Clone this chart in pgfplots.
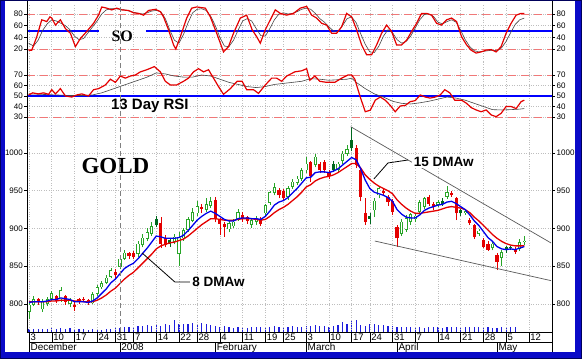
\documentclass[border=0pt]{standalone}
\usepackage{fontspec}
\setmainfont{Liberation Sans}
\newfontfamily\lserif{Liberation Serif}
\usepackage{pgfplots}
\usepackage{pgfplotstable}
\pgfplotsset{compat=1.18}

\definecolor{frameblue}{RGB}{10,10,200}
\definecolor{navyc}{RGB}{0,0,90}
\definecolor{cred}{RGB}{228,0,0}
\definecolor{cblue}{RGB}{0,0,235}
\definecolor{lblue}{RGB}{0,0,230}
\definecolor{dashred}{RGB}{240,120,120}
\definecolor{cgreen}{RGB}{40,165,40}
\definecolor{dgreen}{RGB}{0,105,30}
\definecolor{gridg}{RGB}{190,190,190}
\definecolor{sig}{RGB}{70,70,70}
\definecolor{volblue}{RGB}{30,30,220}
\definecolor{trend}{RGB}{90,90,90}

% ---------- candles: index, open, high, low, close ----------
\pgfplotstableread{
i o h l c
0 790 803 780 799
1 799 810 797 806
3 793 806 790 803
4 800 809 797 806
5 807 817 804 814
7 806 822 803 818
9 800 808 796 805
14 801 816 800 813
15 813 825 811 822
16 822 831 820 828
17 828 838 826 835
18 836 848 834 845
20 849 864 846 860
21 860 871 858 868
24 866 884 862 880
25 878 893 875 888
26 886 900 883 895
27 893 908 890 903
32 882 893 879 889
33 866 895 850 888
34 887 901 884 898
35 898 915 896 912
36 910 927 908 922
37 920 937 917 930
39 925 940 922 932
40 930 942 927 936
44 899 910 895 907
45 903 912 900 909
46 912 926 910 922
49 905 913 901 911
50 909 916 905 913
52 920 933 917 931
53 934 950 931 948
54 947 960 944 955
57 942 956 938 953
58 955 965 952 962
59 960 969 957 966
60 966 980 963 977
61 977 995 973 986
63 984 998 981 995
68 978 988 975 986
69 990 1003 986 999
70 999 1010 996 1005
76 924 941 915 937
77 944 955 940 953
82 893 912 890 909
83 898 918 896 914
84 909 921 905 919
85 912 920 908 917
86 922 938 920 935
87 929 942 926 940
90 931 938 928 935
92 942 956 939 948
96 921 925 918 923
99 893 899 890 897
102 874 882 871 880
104 861 871 850 869
108 873 886 870 882
109 882 890 878 884
}\upc
\pgfplotstableread{
i o h l c
2 806 808 799 802
6 810 812 801 804
8 810 812 799 803
10 799 802 791 796
11 806 808 800 804
12 807 809 802 805
13 805 807 799 801
19 843 846 835 838
22 867 869 860 863
23 867 870 859 862
29 907 915 874 880
30 888 892 875 878
38 929 933 920 926
41 938 942 908 912
42 911 914 891 906
43 906 909 889 902
47 918 922 909 912
48 915 917 906 910
51 913 915 903 906
55 951 953 940 944
56 950 952 936 940
62 988 990 962 970
64 986 988 973 977
65 988 991 974 977
66 975 977 966 970
72 1006 1010 980 984
73 977 980 936 942
74 920 941 905 909
78 950 952 944 947
79 942 944 930 935
80 937 939 918 922
81 902 905 876 887
88 942 945 930 933
89 932 935 925 928
93 947 950 942 944
94 940 942 911 920
97 911 914 905 907
98 904 906 886 889
100 885 888 874 876
101 880 883 870 872
103 865 867 845 856
107 873 875 866 869
}\dnc
\pgfplotstableread{
i o h l c
28 905 916 902 912
31 879 888 876 885
67 977 990 975 986
71 1006 1034 1002 1017
75 913 920 906 916
91 933 940 930 937
95 920 926 917 924
105 871 877 868 875
106 874 877 872 876
}\dkc

% ---------- moving averages ----------
\pgfplotstableread{
i v
0 802
1 803
2 803
3 803
4 804
5 806
6 806
7 808
8 807
9 806
10 803
11 803
12 803
13 802
14 804
15 808
16 814
17 820
18 828
19 833
20 840
21 847
22 851
23 854
24 860
25 867
26 874
27 882
28 890
29 889
30 887
31 887
32 887
33 888
34 891
35 897
36 904
37 911
38 916
39 920
40 923
41 920
42 916
43 912
44 910
45 910
46 913
47 914
48 914
49 913
50 913
51 912
52 916
53 923
54 931
55 935
56 937
57 941
58 947
59 953
60 960
61 967
62 968
63 974
64 975
65 975
66 974
67 976
68 979
69 984
70 989
71 994
72 991
73 979
74 964
75 953
76 948
77 946
78 944
79 941
80 936
81 925
82 919
83 915
84 914
85 914
86 918
87 924
88 927
89 929
90 931
91 932
92 935
93 936
94 933
95 929
96 925
97 918
98 910
99 904
100 896
101 888
102 883
103 876
104 873
105 872
106 873
107 872
108 874
109 876
}\madw
\pgfplotstableread{
i v
0 803
1 803
2 803
3 803
4 803
5 804
6 804
7 805
8 805
9 805
10 804
11 804
12 803
13 803
14 803
15 805
16 808
17 812
18 817
19 821
20 827
21 833
22 838
23 842
24 848
25 854
26 860
27 866
28 873
29 877
30 879
31 881
32 882
33 884
34 886
35 890
36 895
37 900
38 905
39 909
40 913
41 913
42 912
43 911
44 911
45 911
46 912
47 913
48 913
49 913
50 912
51 911
52 912
53 916
54 921
55 925
56 928
57 932
58 937
59 942
60 948
61 955
62 958
63 963
64 966
65 968
66 969
67 971
68 974
69 978
70 982
71 986
72 986
73 980
74 971
75 965
76 960
77 956
78 953
79 950
80 946
81 938
82 932
83 927
84 923
85 920
86 920
87 921
88 922
89 923
90 924
91 926
92 928
93 929
94 928
95 927
96 925
97 921
98 915
99 910
100 904
101 898
102 892
103 887
104 883
105 880
106 878
107 877
108 877
109 877
}\mafw

% ---------- volume (relative heights) ----------
\pgfplotstableread{
i v
0 3
1 3
2 3
3 3
4 3
5 4
6 3
7 4
8 3
9 4
10 3
11 3
12 3
13 2
14 3
15 2
16 2
17 3
18 3
19 5
20 4
21 5
22 5
23 5
24 6
25 6
26 7
27 6
28 8
29 6
30 8
31 7
32 12
33 8
34 8
35 8
36 9
37 8
38 9
39 8
40 7
41 6
42 5
43 6
44 5
45 4
46 5
47 5
48 4
49 5
50 5
51 5
52 5
53 5
54 6
55 5
56 5
57 5
58 6
59 5
60 5
61 6
62 6
63 7
64 6
65 6
66 5
67 6
68 7
69 10
70 8
71 11
72 12
73 7
74 6
75 8
76 8
77 7
78 7
79 6
80 6
81 5
82 5
83 5
84 5
85 5
86 5
87 4
88 5
89 5
90 5
91 4
92 5
93 5
94 5
95 5
96 5
97 5
98 5
99 5
100 5
101 5
102 4
103 4
104 5
105 4
106 5
107 5
}\vol

% ---------- stochastic oscillator ----------
\pgfplotstableread{
x y
-0.1 18
0.6 18
1.7 41
2.8 70
3.9 67
4.6 75
5.0 73
5.8 61
6.9 70
8.0 55
9.1 47
10.2 24
11.3 38
12.7 50
14.2 64
15.3 78
16.0 92
17.1 90
18.2 87
19.3 90
20.4 87
21.9 86
23.0 82
24.1 81
25.2 78
26.3 86
27.8 88
28.9 84
29.6 75
30.7 53
31.8 27
32.3 20
33.3 41
34.7 73
35.8 90
36.9 92
38.8 90
39.9 75
41.3 47
42.8 15
43.9 24
45.0 47
46.5 73
47.9 78
49.1 53
50.1 41
50.9 30
52.0 53
53.1 70
54.2 87
55.3 81
56.7 78
58.2 81
59.7 90
61.1 93
62.2 78
63.3 73
64.4 64
65.5 61
66.6 47
67.7 47
68.8 58
69.9 81
71.0 75
72.1 53
73.2 27
74.3 10
75.4 10
76.5 27
77.6 47
78.7 61
79.8 50
80.9 27
82.0 27
83.1 35
84.2 50
85.3 64
86.4 81
87.5 81
88.6 78
89.7 64
90.8 61
91.9 70
93.0 73
94.1 67
95.2 41
96.3 27
97.3 18
98.4 13
99.5 15
100.6 18
101.7 19
102.8 15
103.9 24
105.0 47
106.1 64
107.2 78
108.3 81
109.0 81
}\sored
\pgfplotstableread{
x y
-0.1 30
1 25
2 35
3 52
4 63
5 70
6 68
7 64
8 60
9 53
10 42
11 36
12 38
13 48
14 58
15 68
16 80
17 87
18 89
19 89
20 88
21 87
22 85
23 83
24 81
25 80
26 82
27 85
28 86
29 84
30 72
31 52
32 35
33 30
34 45
35 65
36 82
37 88
38 89
39 86
40 76
41 60
42 40
43 25
44 24
45 35
46 52
47 68
48 72
49 68
50 55
51 43
52 42
53 55
54 70
55 80
56 82
57 80
58 81
59 84
60 88
61 90
62 88
63 81
64 72
65 66
66 58
67 51
68 50
69 60
70 72
71 75
72 65
73 46
74 28
75 15
76 14
77 25
78 42
79 53
80 48
81 36
82 30
83 33
84 42
85 56
86 70
87 79
88 80
89 76
90 66
91 63
92 67
93 70
94 66
95 52
96 36
97 24
98 17
99 15
100 16
101 17
102 18
103 17
104 22
105 33
106 48
107 62
108 70
109 73
}\sosig

% ---------- 13 day RSI ----------
\pgfplotstableread{
x y
-0.1 51
0.8 53
2.0 52
3.2 53
4.3 51.6
5.0 56
5.8 52
6.9 57
8.0 50
9.4 49
10.5 51
11.6 52
13.1 50
14.2 56
15.3 57
16.8 60.5
17.9 66
19.0 63
20.1 69
21.2 67
22.3 69
23.4 70
24.5 73
25.9 75
27.6 78
28.1 76
28.9 73
30.0 64
31.1 60.5
32.5 60.5
34.0 64
35.1 67
36.2 73
37.3 76
38.4 73
39.5 75
40.6 67
41.7 59
42.8 51.6
44.3 57
45.8 64
46.9 64
47.9 56
49.4 56
50.5 52.5
52.0 60.5
53.4 67
54.5 67
55.6 64
56.7 69
58.5 73
60.0 74
61.1 76
61.8 65
62.9 69
64.0 64
65.5 63
67.3 63
68.8 67
70.2 70
71.0 70
71.7 66
72.9 49
74.0 35
75.1 36.5
76.2 46
77.3 49
78.4 46
79.5 41
80.6 35
81.7 40.5
82.8 41
83.9 44.6
85.0 45.6
86.1 51
87.2 49
88.3 48
89.4 49
90.5 51
91.5 56
92.6 53
93.7 46
95.2 46
96.3 43
97.3 39
98.4 36.7
99.5 35
100.6 36.7
101.7 32
102.8 30.3
103.9 33.5
105.0 40
106.1 40
107.2 38
108.3 44.6
109.0 46
}\rsired
\pgfplotstableread{
x y
-0.1 52
3 51.5
6 51
9 50.5
12 50.5
14 51
16 53
18 56
20 59
22 62
24 65
26 68
28 72
30 71
32 69
34 68
36 68
38 70
40 69
42 66
44 63
46 61
48 59
50 58
52 59
54 61
56 62
58 63
60 64
62 66.5
64 66
66 65
68 65.5
70 66
71 67
72 63
74 57
76 52
78 49
80 45
82 43
84 42.4
86 43.5
88 45
90 47
92 49
94 48
96 46
98 43
100 40
102 37
104 36.7
106 37
108 37.5
109 38
}\rsisig

\pgfplotsset{
  panel/.style={scale only axis, width=525pt, xmin=-0.45, xmax=115.1,
    anchor=south west, axis line style={draw=none},
    xtick={0,5,10,15,19,23,28,33,37,42,47,52,56,61,66,71,75,80,85,90,95,100,105,110},
    xticklabels={}, xtick style={draw=none},
    xmajorgrids, ymajorgrids,
    grid style={gridg, dotted, line width=0.6pt},
    ytick style={black, line width=0.5pt}, major tick length=3pt, tick align=outside,
    ytick pos=left, yticklabel pos=left,
    yticklabel style={inner sep=1pt},
    tick label style={font=\fontsize{8}{9}\selectfont},
    /pgf/number format/assume math mode=true,
    /pgf/number format/set thousands separator={}},
  rpanel/.style={scale only axis, width=525pt, xmin=-0.45, xmax=115.1,
    anchor=south west, axis line style={draw=none}, xtick=\empty,
    ytick style={black, line width=0.5pt}, major tick length=3pt, tick align=outside,
    ytick pos=right, yticklabel pos=right,
    yticklabel style={inner sep=1.5pt},
    tick label style={font=\fontsize{8}{9}\selectfont},
    /pgf/number format/assume math mode=true,
    /pgf/number format/set thousands separator={}},
  wick/.style={draw=none, mark=none, forget plot,
    error bars/.cd, y dir=plus, y explicit, error mark=none,
    error bar style={draw=#1, line width=0.6pt}},
  body/.style={draw=none, mark=none, forget plot,
    error bars/.cd, y dir=plus, y explicit, error mark=none,
    error bar style={draw=#1, line width=3.2pt}},
  refdash/.style={dashred, dash pattern=on 8pt off 5pt, line width=0.8pt, forget plot},
  refblue/.style={color=blue, line width=2pt, forget plot},
}

\begin{document}
\begin{tikzpicture}[x=1pt,y=1pt]
\useasboundingbox (0,0) rectangle (582,359);
\fill[frameblue] (0,0) rectangle (582,359);
\fill[white] (5,7) rectangle (575,357.5);
\draw[navyc, line width=1.2pt] (0.6,0.6) rectangle (581.4,358.4);

% ===== SO panel =====
\begin{axis}[panel, at={(27pt,298pt)}, height=57pt, ymin=-0.57, ymax=97.1, ytick={20,40,60,80}]
\addplot[refdash] coordinates {(-0.45,80) (115.1,80)};
\addplot[refdash] coordinates {(-0.45,20) (115.1,20)};
\addplot[refblue] coordinates {(-0.45,50) (15.4,50)};
\addplot[refblue] coordinates {(25.7,50) (115.1,50)};
\addplot[sig, line width=0.6pt] table[x=x,y=y] {\sosig};
\addplot[cred, line width=1.2pt] table[x=x,y=y] {\sored};
\node[font=\lserif\bfseries\fontsize{16}{16}\selectfont] at (axis cs:20.5,42.5) {SO};
\end{axis}
\begin{axis}[rpanel, at={(27pt,298pt)}, height=57pt, ymin=-0.57, ymax=97.1, ytick={20,40,60,80}]
\end{axis}

% ===== RSI panel =====
\begin{axis}[panel, at={(27pt,239pt)}, height=59pt, ymin=27.14, ymax=83.33, ytick={30,40,50,60,70}]
\addplot[refdash] coordinates {(-0.45,70) (115.1,70)};
\addplot[refdash] coordinates {(-0.45,30) (115.1,30)};
\addplot[refblue] coordinates {(-0.45,50) (115.1,50)};
\addplot[sig, line width=0.6pt] table[x=x,y=y] {\rsisig};
\addplot[cred, line width=1.2pt] table[x=x,y=y] {\rsired};
\node[fill=white, inner sep=0.5pt, font=\bfseries\fontsize{15}{15}\selectfont] at (axis cs:26.6,40.2) {13 Day RSI};
\end{axis}
\begin{axis}[rpanel, at={(27pt,239pt)}, height=59pt, ymin=27.14, ymax=83.33, ytick={30,40,50,60,70}]
\end{axis}

% ===== volume =====
\begin{axis}[scale only axis, width=525pt, height=212pt, at={(27pt,27pt)}, anchor=south west,
  xmin=-0.45, xmax=115.1, ymin=0, ymax=212, hide axis]
\addplot[ycomb, volblue, line width=1.2pt] table[x=i,y=v] {\vol};
\end{axis}

% ===== price panel =====
\begin{axis}[panel, at={(27pt,27pt)}, height=212pt, ymin=762.9, ymax=1043.7,
  ytick={800,850,900,950,1000}]
% wicks
\addplot[wick=cgreen] table[x=i, y=l, y error plus expr=\thisrow{h}-\thisrow{l}] {\upc};
\addplot[wick=cred] table[x=i, y=l, y error plus expr=\thisrow{h}-\thisrow{l}] {\dnc};
\addplot[wick=dgreen] table[x=i, y=l, y error plus expr=\thisrow{h}-\thisrow{l}] {\dkc};
% bodies
\addplot[body=cgreen] table[x=i, y=o, y error plus expr=\thisrow{c}-\thisrow{o}] {\upc};
\addplot[draw=none, mark=none, forget plot,
    error bars/.cd, y dir=plus, y explicit, error mark=none,
    error bar style={draw=white, line width=1.4pt, shorten <=0.7pt, shorten >=0.7pt}]
    table[x=i, y=o, y error plus expr=\thisrow{c}-\thisrow{o}] {\upc};
\addplot[body=cred] table[x=i, y=c, y error plus expr=\thisrow{o}-\thisrow{c}] {\dnc};
\addplot[body=dgreen] table[x=i, y=o, y error plus expr=\thisrow{c}-\thisrow{o}] {\dkc};
% moving averages
\addplot[cred, line width=1.3pt] table[x=i,y=v] {\mafw};
\addplot[cblue, line width=1.3pt] table[x=i,y=v] {\madw};
% trend lines
\draw[trend, line width=0.7pt] (axis cs:70.8,1034.8) -- (axis cs:114.9,880.8);
\draw[trend, line width=0.7pt] (axis cs:76.1,883.4) -- (axis cs:114.9,830.9);
% annotations
\draw[black, line width=0.8pt] (axis cs:24.9,867.5) -- (axis cs:32.1,829.1) -- (axis cs:35.4,829.1);
\node[anchor=west, inner sep=1pt, font=\bfseries\fontsize{13.5}{14}\selectfont] at (axis cs:35.7,829.1) {8 DMAw};
\draw[black, line width=0.8pt] (axis cs:83.4,990.7) -- (axis cs:79.0,986.8) -- (axis cs:75.9,965.6);
\node[fill=white, inner sep=1.5pt, font=\bfseries\fontsize{13.5}{14}\selectfont] at (axis cs:91.3,988) {15 DMAw};
\node[fill=white, inner sep=1pt, font=\lserif\bfseries\fontsize{23}{23}\selectfont] at (axis cs:19.0,982.8) {GOLD};
\end{axis}
\begin{axis}[rpanel, at={(27pt,27pt)}, height=212pt, ymin=762.9, ymax=1043.7,
  ytick={800,850,900,950,1000}]
\end{axis}

% ===== date band: days =====
\begin{axis}[scale only axis, width=525pt, height=10.5pt, at={(27pt,16.5pt)}, anchor=south west,
  xmin=-0.45, xmax=115.1, ymin=0, ymax=1, axis line style={draw=none},
  ytick=\empty, major tick length=0pt, xtick style={draw=none},
  xtick={0,5,10,15,19,23,28,33,37,42,47,52,56,61,66,71,75,80,85,90,95,100,105,110},
  xticklabels={3,10,17,24,31,7,14,22,28,4,11,19,25,3,10,17,24,31,7,14,21,28,5,12},
  xmajorgrids, grid style={black, solid, line width=0.5pt},
  xticklabel style={anchor=base west, yshift=2.3pt, xshift=0.3pt, inner sep=1pt,
    font=\fontsize{9.5}{10}\selectfont}]
\draw[black, line width=0.6pt] (axis cs:-0.45,1) -- (axis cs:115.1,1);
\draw[black, line width=0.5pt] (axis cs:0,0) -- (axis cs:115.1,0);
\end{axis}

% ===== date band: months =====
\begin{axis}[scale only axis, width=525pt, height=9.5pt, at={(27pt,7pt)}, anchor=south west,
  xmin=-0.45, xmax=115.1, ymin=0, ymax=1, axis line style={draw=none},
  ytick=\empty, major tick length=0pt, xtick style={draw=none},
  xtick={0,20,41,61,81,103},
  xticklabels={December,2008,February,March,April,May},
  xmajorgrids, grid style={black, solid, line width=0.5pt},
  xticklabel style={anchor=base west, yshift=1.8pt, xshift=0.3pt, inner sep=1pt,
    font=\fontsize{10}{11}\selectfont}]
\end{axis}

% axis frame lines and the year divider
\draw[black, line width=0.7pt] (27,27) -- (27,357.5);
\draw[black, line width=0.7pt] (552,7) -- (552,357.5);
\draw[gray, dash pattern=on 5pt off 3pt, line width=0.7pt] (119.9,27) -- (119.9,357.5);
\end{tikzpicture}
\end{document}
